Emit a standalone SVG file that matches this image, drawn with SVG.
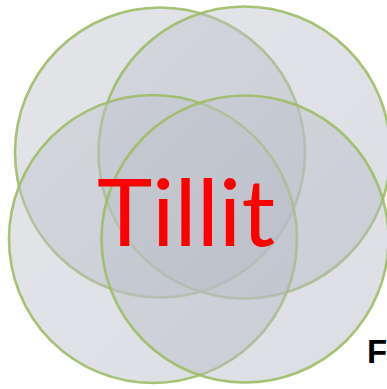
<svg xmlns="http://www.w3.org/2000/svg" width="387" height="389" viewBox="0 0 387 389">
<style>
.c{fill:url(#g);fill-opacity:0.46;stroke:#9dbc66;stroke-opacity:0.9;stroke-width:2.6}
.t{font-family:Lato,"Open Sans",sans-serif;fill:#ff0000}
.f{font-family:"Liberation Sans",Arial,sans-serif;font-weight:bold;fill:#000}
</style>
<defs>
<linearGradient id="g" x1="0" y1="0" x2="1" y2="1">
<stop offset="0" stop-color="#c2c6cf"/>
<stop offset="1" stop-color="#b2b7c3"/>
</linearGradient>
</defs>
<rect width="387" height="389" fill="#fff"/>
<g id="circle-top-left"><circle class="c" cx="160" cy="152.5" r="145"/></g>
<g id="circle-top-right"><circle class="c" cx="244.5" cy="152.5" r="146"/></g>
<g id="circle-bottom-left"><circle class="c" cx="153" cy="239" r="144"/></g>
<g id="circle-bottom-right"><circle class="c" cx="245" cy="239" r="143.5"/></g>
<g id="label-tillit"><text class="t" x="97" y="246" font-size="93" textLength="178" lengthAdjust="spacingAndGlyphs">Tillit</text></g>
<g id="label-f"><text class="f" x="367" y="363" font-size="33">F</text></g>
</svg>
